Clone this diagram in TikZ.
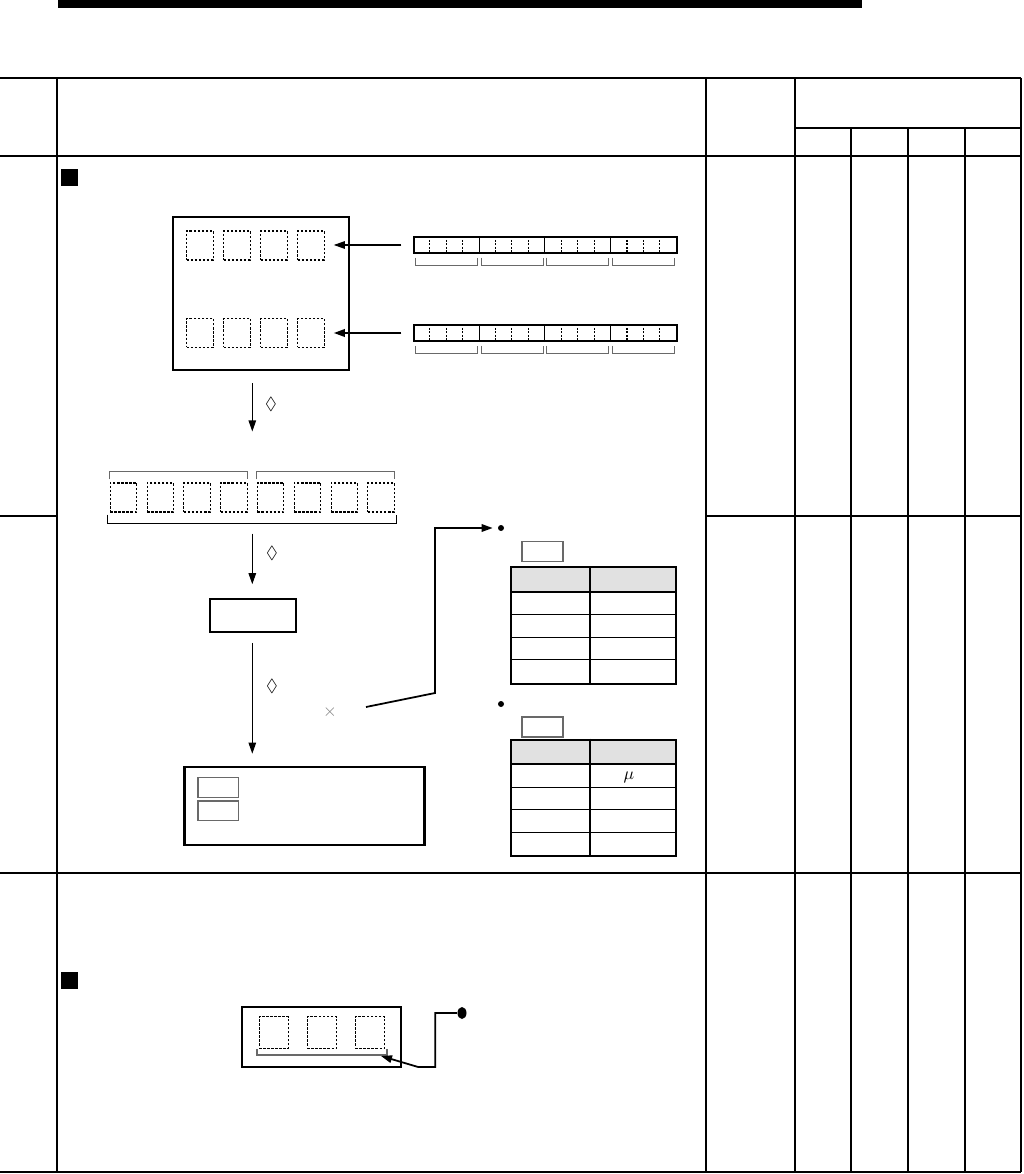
\documentclass[tikz,border=0pt]{standalone}
\usepackage{amssymb}
\usepackage{xcolor}
\usepackage{tikz}
\usetikzlibrary{positioning,arrows.meta,calc,shapes.geometric}
\definecolor{hdrgray}{RGB}{225,225,225}
\definecolor{brkgray}{RGB}{105,105,105}
\tikzset{
  thinrule/.style={line width=0.6pt},
  midrule/.style={line width=1.1pt},
  heavyrule/.style={line width=1.6pt},
  unitbox/.style={draw, line width=1.2pt, inner sep=0pt},
  slot/.style={draw, line width=0.6pt, dash pattern=on 1.4pt off 0.9pt,
               minimum width=5.3mm, minimum height=5.8mm, inner sep=0pt},
  regbar/.style={draw, line width=0.8pt, minimum width=52.6mm, minimum height=3.2mm,
                 inner sep=0pt},
  brk/.style={draw=brkgray, line width=0.6pt},
  tag/.style={draw=brkgray, line width=0.7pt, minimum width=8.2mm, minimum height=4mm,
              inner sep=0pt},
  tblframe/.style={draw, line width=1.1pt, minimum width=33mm, minimum height=23.3mm,
                   inner sep=0pt},
  blob/.style={circle, fill, inner sep=0pt, minimum size=1.2mm},
  flow/.style={-{Triangle[length=2.2mm,width=1.5mm]}, line width=0.6pt},
  flowbold/.style={flow, line width=1pt},
  sym/.style={font=\normalsize, inner sep=0pt}
}

\begin{document}
\begin{tikzpicture}[x=0.2mm, y=-0.2mm]
  \useasboundingbox (0,0) rectangle (1023,1174);
  % page header bar
  \fill (58,0) rectangle (862,8);

  % table grid
  \draw[heavyrule] (0,78) -- (1021,78) (0,156) -- (1021,156) (0,1172) -- (1021,1172);
  \draw[thinrule] (57,78) -- (57,1172) (706,78) -- (706,1172)
                  (851,128) -- (851,1172) (908,128) -- (908,1172);
  \draw[midrule] (795,78) -- (795,1172) (1021,78) -- (1021,1172) (965,128) -- (965,1172)
                 (795,128) -- (1021,128);
  \draw[thinrule] (0,516) -- (57,516) (706,516) -- (1021,516) (0,873) -- (1021,873);

  % section marks
  \fill (61,169) rectangle (78,186);
  \fill (61,972) rectangle (78,989);

  % device with two digit rows
  \node[unitbox, minimum width=35.2mm, minimum height=30.6mm] (dev) at (261,293.5) {};
  \foreach \i/\x in {1/200,2/237,3/274,4/311} {
    \node[slot] (cA\i) at (\x,245.5) {};
    \node[slot] (cB\i) at (\x,333) {};
  }

  % 16-bit registers
  \foreach \r/\y in {regA/245,regB/333} {
    \node[regbar] (\r) at (545.5,\y) {};
    \foreach \k in {4,8,12}
      \draw[thinrule] ($(\r.north west)+(16.44*\k,0)$) -- ($(\r.south west)+(16.44*\k,0)$);
    \foreach \k in {1,2,3,5,6,7,9,10,11,13,14,15}
      \draw[thinrule, dash pattern=on 1pt off 1pt]
        ($(\r.north west)+(16.44*\k,0)$) -- ($(\r.south west)+(16.44*\k,0)$);
    \foreach \g in {0,1,2,3}
      \draw[brk] ($(\r.south west)+(2+65.75*\g,4)$) -- ++(0,8) -- ++(62,0) -- ++(0,-8);
  }
  \draw[flow] ($(regA.west)+(-12,0)$) -- ($(regA.west -| cA4.east)+(9,0)$);
  \draw[flowbold] ($(regB.west)+(-12,0)$) -- ($(regB.west -| cB4.east)+(9,0)$);

  % byte row
  \foreach \i in {1,...,8}
    \node[slot] (bC\i) at ({123.5+36.8*(\i-1)},497.5) {};
  \coordinate (bytes) at ($(bC1.center)!0.5!(bC8.center)$);
  \draw[brk] ($(bC1.north west)+(0,-3)$) -- ++(0,-8) -- ($(bC4.north east)+(0,-11)$) -- ++(0,8);
  \draw[brk] ($(bC5.north west)+(0,-3)$) -- ++(0,-8) -- ($(bC8.north east)+(0,-11)$) -- ++(0,8);
  \draw[thinrule] ($(bC1.south west)+(-2,2)$) -- ++(0,9) -- ($(bC8.south east)+(2,11)$) -- ++(0,-9);

  \draw[flow] ($(dev.south -| bytes)+(0,12)$) -- ($(bC1.north -| bytes)+(0,-51)$);
  \node[sym] (d1) at (271,404) {$\lozenge$};

  % processing unit and display
  \node[unitbox, minimum width=17.2mm, minimum height=6.5mm] (unit) at (253,615.5) {};
  \draw[flow] ($(bC1.south -| bytes)+(0,21)$) -- ($(unit.north -| bytes)+(0,-14)$);
  \node[sym] (d2) at (272,553) {$\lozenge$};

  \node[unitbox, minimum width=48mm, minimum height=15.7mm] (disp) at (304.5,806) {};
  \node[tag, minimum width=8.1mm, minimum height=3.9mm] (dA) at (218.2,787.4) {};
  \node[tag, minimum width=8.1mm, minimum height=3.9mm] (dB) at (218.2,810.7) {};
  \draw[flow] ($(unit.south -| bytes)+(0,10)$) -- ($(disp.north -| bytes)+(0,-12)$);
  \node[sym] (d3) at (272,686) {$\lozenge$};
  \node[sym, text=gray] (times) at (330,712) {$\times$};

  % lookup tables
  \node[blob] (b1) at (501,528) {};
  \node[blob] (b2) at (501,704) {};
  \foreach \t/\ty/\cy in {tblA/567.3/551.5,tblB/739.7/727} {
    \fill[hdrgray] (511,\ty) rectangle (676,\ty+25.5);
    \node[tblframe] (\t) at (593.5,\ty+58.25) {};
    \draw[midrule] ($(\t.north west)+(0,25.5)$) -- ++(165,0);
    \foreach \r in {48.5,71,93.5}
      \draw[thinrule] ($(\t.north west)+(0,\r)$) -- ++(165,0);
    \draw[midrule] ($(\t.north west)+(79.6,0)$) -- ($(\t.south west)+(79.6,0)$);
    \node[tag] (cap\t) at (542.5,\cy) {};
  }
  \node[sym] (mu) at (629,777.5) {$\mu$};

  \coordinate (xtail) at (366,707);
  \draw[flowbold, shorten >=1mm] (xtail) -- (435,693) |- (b1.west);

  % small display in the last section
  \node[unitbox, minimum width=31.9mm, minimum height=12.1mm] (panel) at (321.4,1037) {};
  \foreach \i/\x in {1/273.8,2/322,3/370}
    \node[slot, minimum width=5.9mm, minimum height=6.3mm] (pC\i) at (\x,1032.5) {};
  \draw[brk] (257,1049) -- (257,1055) -- (387,1055) -- (387,1049);
  \coordinate (pend) at (381,1056);
  \node[blob, ellipse, minimum width=1.8mm, minimum height=2.4mm] (b3) at (462,1013) {};
  \draw[flowbold] (b3.west) -- ++(-22,0) -- ++(0,54) -- ++(-17,0) -- (pend);
\end{tikzpicture}
\end{document}
